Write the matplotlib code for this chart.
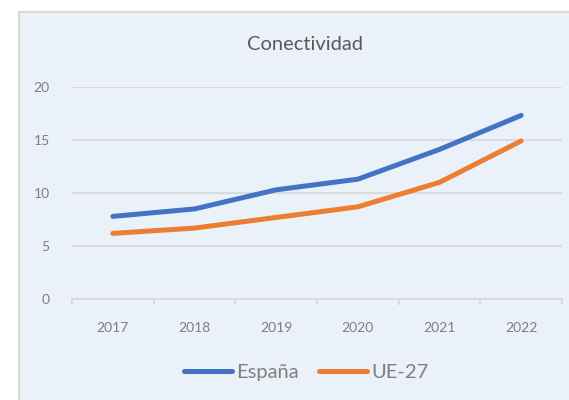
import matplotlib.pyplot as plt
from matplotlib.patches import Rectangle

years = ["2017", "2018", "2019", "2020", "2021", "2022"]
espana = [7.8, 8.5, 10.3, 11.3, 14.1, 17.3]
ue27 = [6.2, 6.7, 7.7, 8.7, 11.0, 14.9]

plt.rcParams['font.family'] = ['Lato', 'DejaVu Sans']

fig = plt.figure(figsize=(5.69, 4.0), dpi=100)
fig.patch.set_facecolor("white")

# light blue chart area with a grey border on the left and top
panel = Rectangle((19 / 569, -0.05), 1.2, 1 - 11.7 / 400 + 0.05,
                  transform=fig.transFigure, facecolor="#EAF1F9",
                  edgecolor="#D9D9D9", lw=1.5, zorder=-10)
fig.patches.append(panel)

ax = fig.add_axes([72 / 569, 1 - 299.3 / 400, 490 / 569, (299.3 - 86.7) / 400])
ax.set_facecolor("none")

x = list(range(len(years)))
ax.plot(x, espana, color="#4472C4", lw=3.6, solid_capstyle="round", label="España", zorder=3)
ax.plot(x, ue27, color="#ED7D31", lw=3.6, solid_capstyle="round", label="UE-27", zorder=3)

ax.set_xlim(-0.5, len(years) - 0.5)
ax.set_ylim(0, 20)
ax.set_yticks([0, 5, 10, 15, 20])
ax.yaxis.grid(True, color="#D9D9D9", lw=1.3)
ax.set_axisbelow(True)

ax.set_xticks(x)
ax.set_xticklabels(years)
ax.set_xticks([i - 0.5 for i in range(len(years) + 1)], minor=True)
ax.tick_params(axis="x", which="major", length=0, pad=16, labelsize=10, labelcolor="#7F7F7F")
ax.tick_params(axis="x", which="minor", length=4, width=1.3, color="#D9D9D9")
ax.tick_params(axis="y", length=0, pad=16, labelsize=10, labelcolor="#7F7F7F")

for s in ["top", "right", "left"]:
    ax.spines[s].set_visible(False)
ax.spines["bottom"].set_color("#D9D9D9")
ax.spines["bottom"].set_linewidth(1.3)

fig.text(305 / 569, 1 - 45 / 400, "Conectividad", ha="center", va="center",
         fontsize=14.5, color="#595959")

fig.legend(loc="center", bbox_to_anchor=(306 / 569, 1 - 372 / 400), ncol=2,
           frameon=False, fontsize=14.5, labelcolor="#7F7F7F",
           handlelength=2.4, handletextpad=0.2, columnspacing=1.0)

fig.savefig("out.png", dpi=100)
